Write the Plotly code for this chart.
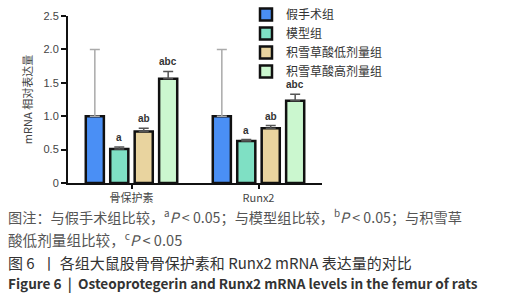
import plotly.graph_objects as go

categories = ["骨保护素", "Runx2"]
groups = ["假手术组", "模型组", "积雪草酸低剂量组", "积雪草酸高剂量组"]
means = {
    "假手术组": [1.00, 1.00],
    "模型组": [0.51, 0.63],
    "积雪草酸低剂量组": [0.77, 0.82],
    "积雪草酸高剂量组": [1.56, 1.23],
}
errors = {
    "假手术组": [1.00, 1.00],
    "模型组": [0.03, 0.02],
    "积雪草酸低剂量组": [0.05, 0.04],
    "积雪草酸高剂量组": [0.11, 0.10],
}
sig_labels = {
    "假手术组": ["", ""],
    "模型组": ["a", "a"],
    "积雪草酸低剂量组": ["ab", "ab"],
    "积雪草酸高剂量组": ["abc", "abc"],
}
colors = ["#4a8ff5", "#7fe0c4", "#e9d49f", "#cbf7cf"]
err_colors = ["#aaaaaa", "#555555", "#555555", "#555555"]

W, H = 512, 300
ML, MR, MT, MB = 68, 190, 16, 117
BARGAP, GROUPGAP = 0.23, 0.26

fig = go.Figure()
for i, g in enumerate(groups):
    fig.add_trace(go.Bar(
        name=g, x=categories, y=means[g],
        marker=dict(color=colors[i], line=dict(color="#111111", width=2.5)),
        error_y=dict(type="data", array=errors[g], arrayminus=[0, 0], symmetric=False,
                     color=err_colors[i], thickness=1.5, width=5),
    ))

# significance letters above error bars
slot = (1 - BARGAP) / len(groups)
for i, g in enumerate(groups):
    for j, c in enumerate(categories):
        lab = sig_labels[g][j]
        if not lab:
            continue
        fig.add_annotation(
            x=j + (i - (len(groups) - 1) / 2) * slot, y=means[g][j] + errors[g][j],
            xref="x", yref="y", text=f"<b>{lab}</b>", showarrow=False,
            yanchor="bottom", yshift=2,
            font=dict(size=10, color="#333333", family="Liberation Sans, Arial"),
        )

ph = H - MT - MB
pw = W - ML - MR
def py(px):
    return (H - MB - px) / ph

captions = [
    (216, "图注：与假手术组比较，<sup>a</sup><i>P</i> < 0.05；与模型组比较，<sup>b</sup><i>P</i> < 0.05；与积雪草", "#555555", 14.2),
    (239, "酸低剂量组比较，<sup>c</sup><i>P</i> < 0.05", "#555555", 14.6),
    (262, "图 6  丨 各组大鼠股骨骨保护素和 Runx2 mRNA 表达量的对比", "#333333", 15.0),
    (283, "<b>Figure 6  |  Osteoprotegerin and Runx2 mRNA levels in the femur of rats</b>", "#333333", 13.6),
]
for ypx, txt, col, fs in captions:
    fig.add_annotation(
        x=(6 - ML) / pw, y=py(ypx), xref="paper", yref="paper",
        text=txt, showarrow=False, xanchor="left", yanchor="middle",
        font=dict(size=fs, color=col, family="Noto Sans CJK SC"),
    )

fig.update_layout(
    width=W, height=H,
    margin=dict(l=ML, r=MR, t=MT, b=MB, autoexpand=False),
    paper_bgcolor="white", plot_bgcolor="white",
    barmode="group", bargap=BARGAP, bargroupgap=GROUPGAP,
    font=dict(family="Liberation Sans, Arial", size=11, color="#333333"),
    showlegend=True,
    legend=dict(
        x=(246 - ML) / pw, y=py(0), xanchor="left", yanchor="top",
        font=dict(size=12, color="#333333", family="Noto Sans CJK SC"),
        bgcolor="rgba(0,0,0,0)", tracegroupgap=0, itemwidth=30,
    ),
    xaxis=dict(
        showline=True, linecolor="#111111", linewidth=2,
        ticks="outside", ticklen=4, tickwidth=2, tickcolor="#111111",
        tickfont=dict(size=11, color="#444444", family="Noto Sans CJK SC"),
        showgrid=False, zeroline=False, automargin=False,
    ),
    yaxis=dict(
        range=[0, 2.5], tickvals=[0, 0.5, 1.0, 1.5, 2.0, 2.5],
        ticktext=["0", "0.5", "1.0", "1.5", "2.0", "2.5"],
        showline=True, linecolor="#111111", linewidth=2,
        ticks="outside", ticklen=5, tickwidth=2, tickcolor="#111111",
        tickfont=dict(size=11, color="#444444"),
        showgrid=False, zeroline=False, automargin=False,
        title=dict(text="mRNA 相对表达量", font=dict(size=11, color="#444444", family="Noto Sans CJK SC"), standoff=9),
    ),
)

fig.write_html("out.html", config={"displayModeBar": False},
               post_script="document.body.style.margin='0';document.body.style.padding='0';")
